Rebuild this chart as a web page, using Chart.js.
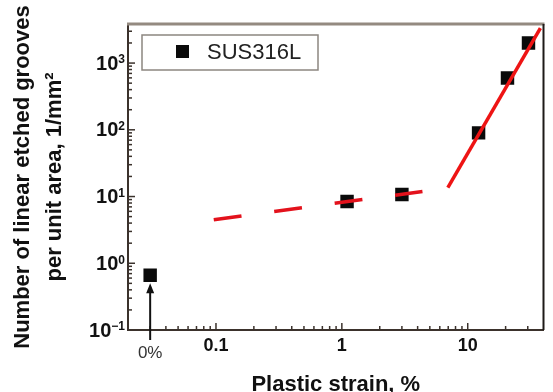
<!DOCTYPE html>
<html>
<head>
<meta charset="utf-8">
<script src="https://cdn.jsdelivr.net/npm/chart.js@4.4.1/dist/chart.umd.min.js"></script>
<style>
  html, body { margin: 0; padding: 0; background: #fff; }
  #wrap { width: 553px; height: 392px; }
</style>
</head>
<body>
<div id="wrap"><canvas id="grooveChart" width="553" height="392"></canvas></div>
<script>
// data
var seriesName = 'SUS316L';
var strain = [0.03, 1.1, 3.0, 12.2, 20.7, 30.4];
var grooves = [0.66, 8.4, 10.7, 90, 596, 1995];
var dashFitX = [0.096, 4.37];
var dashFitY = [4.5, 11.9];
var solidFitX = [6.95, 37.8];
var solidFitY = [13.6, 3350];
var xTickLabels = [0.1, 1, 10];
var yDecades = [-1, 0, 1, 2, 3];
var zeroLabel = '0%';
var xRange = [0.02, 40];
var yRange = [0.1, 3850];

var FONT = "'Liberation Sans', Arial, sans-serif";
var AXIS_COLOR = '#3b322c';

function toPoints(xs, ys) {
  return xs.map(function (x, i) { return {x: x, y: ys[i]}; });
}

function isTick(v, list) {
  return list.some(function (t) { return Math.abs(Math.log10(v) - Math.log10(t)) < 1e-6; });
}

// inward tick marks, top/right frame, y labels, arrow, legend
var framePlugin = {
  id: 'frame',
  afterDraw: function (chart) {
    var ctx = chart.ctx, a = chart.chartArea;
    var xs = chart.scales.x, ys = chart.scales.y;
    ctx.save();
    ctx.strokeStyle = AXIS_COLOR;
    ctx.lineWidth = 1.5;
    function mant(v) {
      var e = Math.floor(Math.log10(v) + 1e-9);
      return v / Math.pow(10, e);
    }
    xs.ticks.forEach(function (t) {
      var m = mant(t.value);
      if (Math.abs(m - Math.round(m)) > 1e-6) return;
      var px = xs.getPixelForValue(t.value);
      if (px <= a.left + 1 || px >= a.right - 1) return;
      var len = Math.round(m) === 1 ? 7 : 4;
      ctx.beginPath(); ctx.moveTo(px, a.bottom); ctx.lineTo(px, a.bottom - len); ctx.stroke();
    });
    ys.ticks.forEach(function (t) {
      var m = mant(t.value);
      if (Math.abs(m - Math.round(m)) > 1e-6) return;
      var py = ys.getPixelForValue(t.value);
      if (py >= a.bottom - 1 || py <= a.top + 1) return;
      var len = Math.round(m) === 1 ? 7 : 4;
      ctx.beginPath(); ctx.moveTo(a.left, py); ctx.lineTo(a.left + len, py); ctx.stroke();
    });
    // top and right border
    ctx.strokeStyle = '#948a80';
    ctx.lineWidth = 3;
    ctx.beginPath(); ctx.moveTo(a.left - 1, a.top); ctx.lineTo(a.right + 1, a.top); ctx.stroke();
    ctx.strokeStyle = '#1e1a18';
    ctx.lineWidth = 2;
    ctx.beginPath(); ctx.moveTo(a.right, a.top); ctx.lineTo(a.right, a.bottom); ctx.stroke();

    // y tick labels as 10^n
    ctx.fillStyle = '#111';
    yDecades.forEach(function (d) {
      var py = ys.getPixelForValue(Math.pow(10, d));
      var exp = d < 0 ? '\u2212' + Math.abs(d) : String(d);
      ctx.font = 'bold 12px ' + FONT;
      var ew = ctx.measureText(exp).width;
      var right = a.left - 3;
      ctx.textAlign = 'right';
      ctx.textBaseline = 'top';
      ctx.fillText(exp, right, py - 9);
      ctx.font = 'bold 20px ' + FONT;
      ctx.textBaseline = 'middle';
      ctx.fillText('10', right - ew, py + 1);
    });

    // arrow and 0% label
    var ax = xs.getPixelForValue(strain[0]);
    var tipY = ys.getPixelForValue(grooves[0]) + 8;
    ctx.strokeStyle = '#111';
    ctx.fillStyle = '#111';
    ctx.lineWidth = 2;
    ctx.beginPath(); ctx.moveTo(ax, a.bottom + 10); ctx.lineTo(ax, tipY + 6); ctx.stroke();
    ctx.beginPath();
    ctx.moveTo(ax, tipY); ctx.lineTo(ax - 4, tipY + 10); ctx.lineTo(ax + 4, tipY + 10);
    ctx.closePath(); ctx.fill();
    ctx.font = '17px ' + FONT;
    ctx.fillStyle = '#333';
    ctx.textAlign = 'center';
    ctx.textBaseline = 'middle';
    ctx.fillText(zeroLabel, ax, a.bottom + 23);

    // legend box
    var lx = a.left + 14, ly = a.top + 11;
    ctx.strokeStyle = '#8c8680';
    ctx.lineWidth = 1.5;
    ctx.strokeRect(lx, ly, 176, 35);
    ctx.fillStyle = '#0a0a0a';
    ctx.fillRect(lx + 34, ly + 10, 13, 13);
    ctx.fillStyle = '#222';
    ctx.font = '22px ' + FONT;
    ctx.textAlign = 'left';
    ctx.fillText(chart.data.datasets[2].label, lx + 65, ly + 18);
    ctx.restore();
  }
};

var ctx = document.getElementById('grooveChart');
var chart = new Chart(ctx, {
  type: 'scatter',
  data: {
    datasets: [
      {
        label: 'fit low',
        data: toPoints(dashFitX, dashFitY),
        showLine: true,
        borderColor: '#e3121c',
        borderWidth: 3.5,
        borderDash: [28, 33],
        pointRadius: 0,
        fill: false,
      },
      {
        label: 'fit high',
        data: toPoints(solidFitX, solidFitY),
        showLine: true,
        borderColor: '#ee1414',
        borderWidth: 3.5,
        pointRadius: 0,
        fill: false,
      },
      {
        label: seriesName,
        data: toPoints(strain, grooves),
        pointStyle: 'rect',
        pointRadius: 9.5,
        pointHoverRadius: 9.5,
        backgroundColor: '#0a0a0a',
        borderColor: '#0a0a0a',
        borderWidth: 0,
      },
    ]
  },
  options: {
    responsive: false,
    animation: false,
    devicePixelRatio: 1,
    layout: { padding: { top: 24, right: 7, left: 0, bottom: 0 } },
    plugins: {
      legend: { display: false },
      tooltip: { enabled: false },
    },
    scales: {
      x: {
        type: 'logarithmic',
        position: 'bottom',
        min: xRange[0],
        max: xRange[1],
        grid: { display: false, drawTicks: false, tickLength: 0 },
        border: { display: true, color: AXIS_COLOR, width: 2 },
        ticks: {
          autoSkip: false,
          maxRotation: 0,
          padding: 5,
          color: '#111',
          font: { family: FONT, size: 18, weight: 'bold' },
          callback: function (v) { return isTick(v, xTickLabels) ? String(+v.toPrecision(3)) : ''; },
        },
        title: {
          display: true,
          text: 'Plastic strain, %',
          color: '#111',
          font: { family: FONT, size: 22, weight: 'bold', lineHeight: '15px' },
          padding: 0,
        },
        afterFit: function (s) { s.height = 62; },
      },
      y: {
        type: 'logarithmic',
        position: 'left',
        min: yRange[0],
        max: yRange[1],
        grid: { display: false },
        border: { display: true, color: AXIS_COLOR, width: 2 },
        ticks: { display: false },
        title: {
          display: true,
          text: ['Number of linear etched grooves', 'per unit area, 1/mm\u00b2'],
          color: '#111',
          font: { family: FONT, size: 22, weight: 'bold', lineHeight: '32px' },
          padding: { top: 7, bottom: 0 },
        },
        afterFit: function (s) { s.width = 128; },
      }
    }
  },
  plugins: [framePlugin]
});
</script>
</body>
</html>
